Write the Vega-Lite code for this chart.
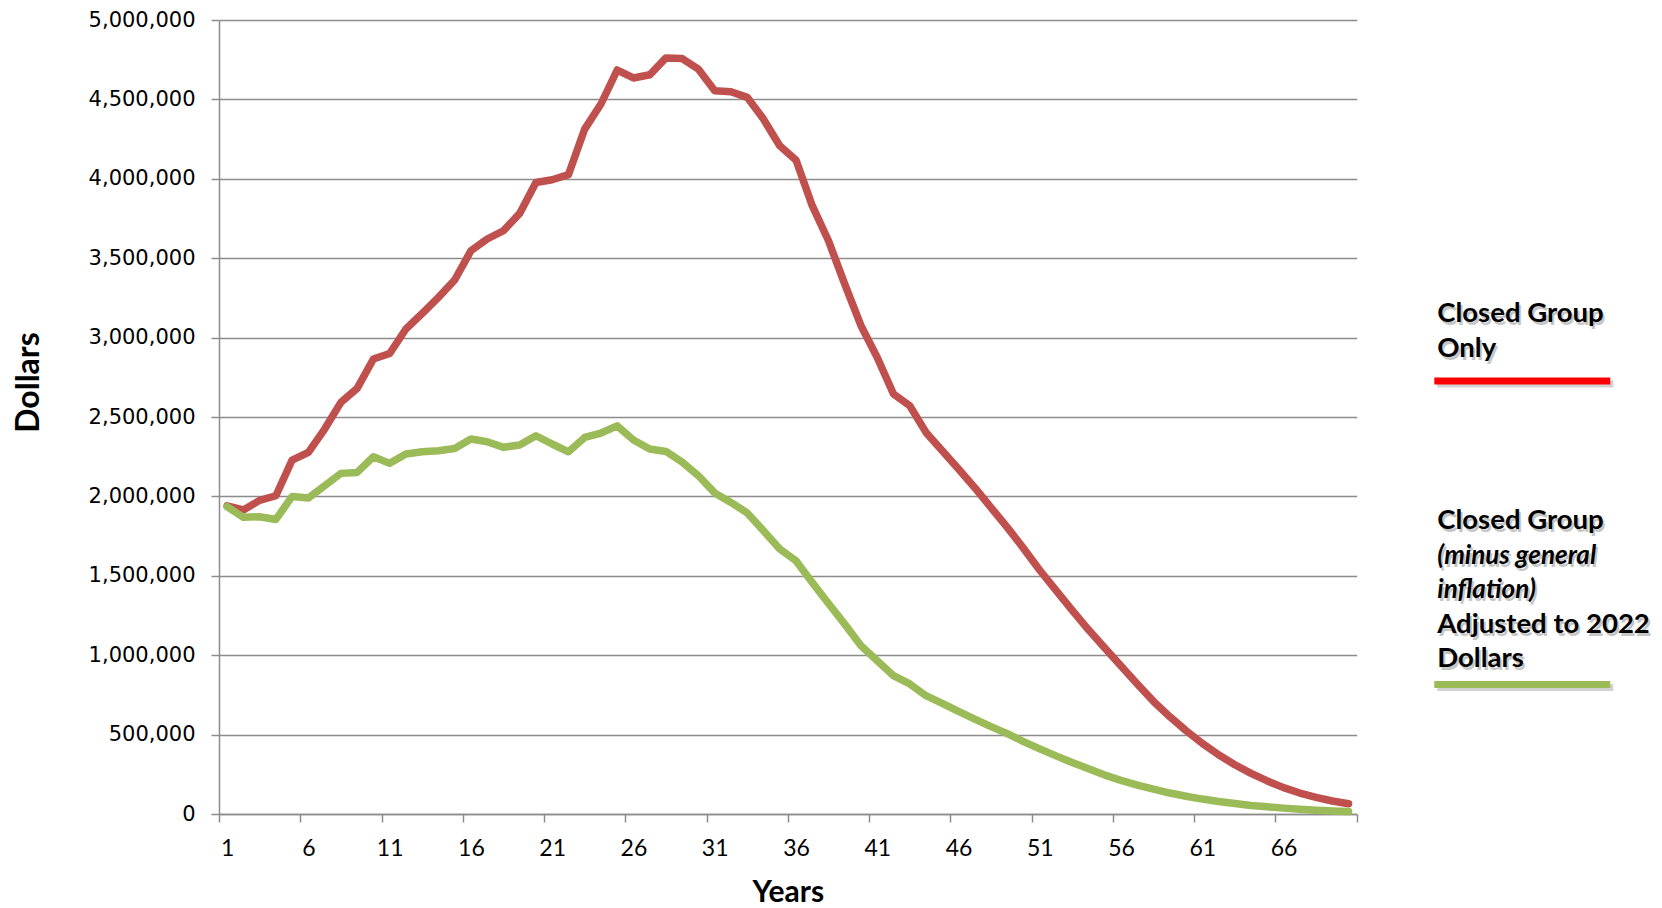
{
  "$schema": "https://vega.github.io/schema/vega-lite/v6.json",
  "background": "white",
  "padding": {"left": 12, "top": 9, "right": 5, "bottom": 0},
  "autosize": {"type": "pad"},
  "config": {"view": {"stroke": null}},
  "datasets": {
    "projection": [
      {"year": 1, "closed": 1940000, "real": 1935000},
      {"year": 2, "closed": 1915000, "real": 1868000},
      {"year": 3, "closed": 1975000, "real": 1872000},
      {"year": 4, "closed": 2004000, "real": 1855000},
      {"year": 5, "closed": 2229000, "real": 2000000},
      {"year": 6, "closed": 2277000, "real": 1990000},
      {"year": 7, "closed": 2424000, "real": 2067000},
      {"year": 8, "closed": 2592000, "real": 2145000},
      {"year": 9, "closed": 2680000, "real": 2151000},
      {"year": 10, "closed": 2865000, "real": 2250000},
      {"year": 11, "closed": 2900000, "real": 2208000},
      {"year": 12, "closed": 3054000, "real": 2267000},
      {"year": 13, "closed": 3152000, "real": 2281000},
      {"year": 14, "closed": 3253000, "real": 2288000},
      {"year": 15, "closed": 3363000, "real": 2302000},
      {"year": 16, "closed": 3547000, "real": 2361000},
      {"year": 17, "closed": 3621000, "real": 2344000},
      {"year": 18, "closed": 3673000, "real": 2309000},
      {"year": 19, "closed": 3782000, "real": 2324000},
      {"year": 20, "closed": 3977000, "real": 2382000},
      {"year": 21, "closed": 3994000, "real": 2330000},
      {"year": 22, "closed": 4026000, "real": 2281000},
      {"year": 23, "closed": 4313000, "real": 2371000},
      {"year": 24, "closed": 4471000, "real": 2399000},
      {"year": 25, "closed": 4685000, "real": 2444000},
      {"year": 26, "closed": 4635000, "real": 2355000},
      {"year": 27, "closed": 4655000, "real": 2298000},
      {"year": 28, "closed": 4761000, "real": 2283000},
      {"year": 29, "closed": 4757000, "real": 2216000},
      {"year": 30, "closed": 4690000, "real": 2130000},
      {"year": 31, "closed": 4555000, "real": 2022000},
      {"year": 32, "closed": 4548000, "real": 1962000},
      {"year": 33, "closed": 4513000, "real": 1896000},
      {"year": 34, "closed": 4376000, "real": 1784000},
      {"year": 35, "closed": 4208000, "real": 1669000},
      {"year": 36, "closed": 4118000, "real": 1595000},
      {"year": 37, "closed": 3831000, "real": 1458000},
      {"year": 38, "closed": 3610000, "real": 1326000},
      {"year": 39, "closed": 3337000, "real": 1196000},
      {"year": 40, "closed": 3075000, "real": 1060000},
      {"year": 41, "closed": 2875000, "real": 965000},
      {"year": 42, "closed": 2645000, "real": 871000},
      {"year": 43, "closed": 2571000, "real": 819000},
      {"year": 44, "closed": 2403000, "real": 745000},
      {"year": 45, "closed": 2288000, "real": 697000},
      {"year": 46, "closed": 2172000, "real": 646000},
      {"year": 47, "closed": 2055000, "real": 598000},
      {"year": 48, "closed": 1930000, "real": 550000},
      {"year": 49, "closed": 1805000, "real": 506000},
      {"year": 50, "closed": 1673000, "real": 456000},
      {"year": 51, "closed": 1535000, "real": 410000},
      {"year": 52, "closed": 1408000, "real": 366000},
      {"year": 53, "closed": 1283000, "real": 324000},
      {"year": 54, "closed": 1160000, "real": 285000},
      {"year": 55, "closed": 1045000, "real": 245000},
      {"year": 56, "closed": 932000, "real": 212000},
      {"year": 57, "closed": 819000, "real": 182000},
      {"year": 58, "closed": 709000, "real": 156000},
      {"year": 59, "closed": 613000, "real": 132000},
      {"year": 60, "closed": 525000, "real": 112000},
      {"year": 61, "closed": 445000, "real": 94000},
      {"year": 62, "closed": 373000, "real": 79000},
      {"year": 63, "closed": 310000, "real": 66000},
      {"year": 64, "closed": 256000, "real": 54000},
      {"year": 65, "closed": 208000, "real": 45000},
      {"year": 66, "closed": 166000, "real": 37000},
      {"year": 67, "closed": 132000, "real": 30000},
      {"year": 68, "closed": 105000, "real": 24000},
      {"year": 69, "closed": 82000, "real": 19000},
      {"year": 70, "closed": 65000, "real": 15000}
    ],
    "legendEntries": [
      {"series": "closed", "line": 0, "text": "Closed Group", "kind": "name", "last": false},
      {"series": "closed", "line": 1, "text": "Only", "kind": "name", "last": true},
      {"series": "real", "line": 6, "text": "Closed Group", "kind": "name", "last": false},
      {"series": "real", "line": 7, "text": "(minus general", "kind": "note", "last": false},
      {"series": "real", "line": 8, "text": "inflation)", "kind": "note", "last": false},
      {"series": "real", "line": 9, "text": "Adjusted to 2022", "kind": "name", "last": false},
      {"series": "real", "line": 10, "text": "Dollars", "kind": "name", "last": true}
    ]
  },
  "spacing": 77.3,
  "bounds": "flush",
  "hconcat": [
    {
      "width": 1137.7,
      "height": 794,
      "data": {"name": "projection"},
      "transform": [{"fold": ["closed", "real"], "as": ["series", "dollars"]}],
      "encoding": {
        "x": {
          "field": "year",
          "type": "quantitative",
          "scale": {"domain": [0.5, 70.5], "nice": false, "zero": false},
          "axis": {
            "values": [0.5, 5.5, 10.5, 15.5, 20.5, 25.5, 30.5, 35.5, 40.5, 45.5, 50.5, 55.5, 60.5, 65.5, 70.5],
            "labelExpr": "datum.value < 70 ? format(datum.value + 0.5, 'd') : ''",
            "labelOffset": 8.13,
            "labelFont": "Lato",
            "labelFontSize": 23,
            "labelColor": "#000000",
            "labelPadding": 15,
            "labelFlush": false,
            "labelOverlap": false,
            "labelBound": false,
            "tickSize": 8,
            "tickColor": "#8c8c8c",
            "tickWidth": 1.5,
            "domainColor": "#8c8c8c",
            "domainWidth": 1.5,
            "grid": false,
            "title": "Years",
            "titleFont": "Lato",
            "titleFontSize": 30,
            "titleFontWeight": "bold",
            "titleColor": "#000000",
            "titleBaseline": "alphabetic",
            "titleY": 87
          }
        },
        "y": {
          "field": "dollars",
          "type": "quantitative",
          "scale": {"domain": [0, 5000000], "nice": false},
          "axis": {
            "values": [0, 500000, 1000000, 1500000, 2000000, 2500000, 3000000, 3500000, 4000000, 4500000, 5000000],
            "format": ",d",
            "labelFont": "DejaVu Sans",
            "labelFontSize": 21,
            "labelColor": "#000000",
            "labelPadding": 16,
            "labelFlush": false,
            "labelOverlap": false,
            "tickSize": 8,
            "tickColor": "#8c8c8c",
            "tickWidth": 1.5,
            "domainColor": "#8c8c8c",
            "domainWidth": 1.5,
            "grid": true,
            "gridColor": "#8c8c8c",
            "gridWidth": 1.5,
            "title": "Dollars",
            "titleFont": "Lato",
            "titleFontSize": 32,
            "titleFontWeight": "bold",
            "titleColor": "#000000",
            "titleBaseline": "alphabetic",
            "titleX": -181,
            "titleY": 362
          }
        }
      },
      "layer": [
        {
          "transform": [{"filter": "datum.series === 'closed'"}],
          "mark": {"type": "line", "color": "#C0504D", "strokeWidth": 7.5, "strokeCap": "round", "strokeJoin": "round"}
        },
        {
          "transform": [{"filter": "datum.series === 'real'"}],
          "mark": {"type": "line", "color": "#9BBB59", "strokeWidth": 7.5, "strokeCap": "round", "strokeJoin": "round"}
        }
      ]
    },
    {
      "width": 176,
      "height": 794,
      "data": {"name": "legendEntries"},
      "encoding": {
        "y": {
          "field": "line",
          "type": "quantitative",
          "scale": {"domain": [-8.765, 14.25], "reverse": true, "nice": false, "zero": false},
          "axis": null
        },
        "x": {"datum": 0, "type": "quantitative", "scale": {"domain": [0, 1]}, "axis": null}
      },
      "layer": [
        {
          "transform": [{"filter": "datum.kind === 'name'"}],
          "mark": {"type": "text", "align": "left", "baseline": "alphabetic", "font": "Lato", "fontSize": 27.5, "fontWeight": "bold", "color": "#000000", "opacity": 0.22, "dx": 5, "dy": 3},
          "encoding": {"text": {"field": "text"}}
        },
        {
          "transform": [{"filter": "datum.kind === 'note'"}],
          "mark": {"type": "text", "align": "left", "baseline": "alphabetic", "font": "Lato", "fontSize": 26, "fontWeight": "bold", "fontStyle": "italic", "color": "#000000", "opacity": 0.22, "dx": 5, "dy": 3},
          "encoding": {"text": {"field": "text"}}
        },
        {
          "transform": [{"filter": "datum.kind === 'name'"}],
          "mark": {"type": "text", "align": "left", "baseline": "alphabetic", "font": "Lato", "fontSize": 27.5, "fontWeight": "bold", "color": "#000000", "dx": 3},
          "encoding": {"text": {"field": "text"}}
        },
        {
          "transform": [{"filter": "datum.kind === 'note'"}],
          "mark": {"type": "text", "align": "left", "baseline": "alphabetic", "font": "Lato", "fontSize": 26, "fontWeight": "bold", "fontStyle": "italic", "color": "#000000", "dx": 3},
          "encoding": {"text": {"field": "text"}}
        },
        {
          "transform": [{"filter": "datum.last && datum.series === 'closed'"}],
          "mark": {"type": "rule", "strokeWidth": 7, "color": "#000000", "opacity": 0.18, "yOffset": 27, "xOffset": 3, "x2Offset": 3},
          "encoding": {"x2": {"datum": 1}}
        },
        {
          "transform": [{"filter": "datum.last && datum.series === 'real'"}],
          "mark": {"type": "rule", "strokeWidth": 7, "color": "#000000", "opacity": 0.18, "yOffset": 20, "xOffset": 3, "x2Offset": 3},
          "encoding": {"x2": {"datum": 1}}
        },
        {
          "transform": [{"filter": "datum.last && datum.series === 'closed'"}],
          "mark": {"type": "rule", "strokeWidth": 7, "color": "#FF0000", "yOffset": 24},
          "encoding": {"x2": {"datum": 1}}
        },
        {
          "transform": [{"filter": "datum.last && datum.series === 'real'"}],
          "mark": {"type": "rule", "strokeWidth": 7, "color": "#9BBB59", "yOffset": 17},
          "encoding": {"x2": {"datum": 1}}
        }
      ]
    }
  ]
}
